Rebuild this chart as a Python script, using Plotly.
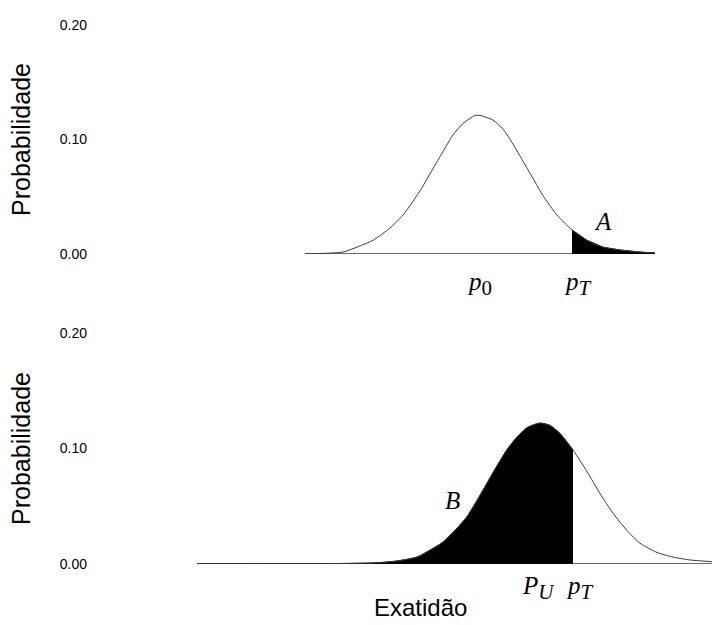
import plotly.graph_objects as go

# ---- data (Exatidão in arbitrary units, Probabilidade values) ----
exatidao_top = [305, 343, 357, 373, 390, 403, 413, 422, 430, 442, 453, 463, 475, 480,
                493, 503, 513, 523, 533, 543, 557, 572, 587, 603, 620, 640, 655]
prob_top = [0.0, 0.0017, 0.006, 0.012, 0.0227, 0.034, 0.046, 0.058, 0.070, 0.088,
            0.104, 0.114, 0.121, 0.121, 0.117, 0.109, 0.096, 0.081, 0.066, 0.051,
            0.034, 0.021, 0.012, 0.006, 0.0035, 0.0017, 0.0009]

exatidao_bottom = [197, 373, 397, 417, 430, 443, 457, 467, 477, 487, 497, 507, 517, 527,
                   540, 550, 560, 573, 587, 600, 613, 627, 640, 657, 673, 690, 712]
prob_bottom = [0.0, 0.0009, 0.0026, 0.006, 0.012, 0.019, 0.031, 0.041, 0.055, 0.070,
               0.085, 0.099, 0.110, 0.118, 0.122, 0.120, 0.113, 0.0987, 0.080, 0.061,
               0.044, 0.029, 0.018, 0.010, 0.006, 0.0035, 0.002]

p_0 = 477
p_T_top = 572
p_U = 540
p_T_bottom = 573

y_tickvals = [0.0, 0.1, 0.2]
y_ticktext = ["0.00", "0.10", "0.20"]

CURVE = "#3a3a3a"
SANS = "Liberation Sans, Arial, sans-serif"
SERIF = "Liberation Serif, Times New Roman, serif"

fig = go.Figure()

# ---- top panel ----
fig.add_trace(go.Scatter(x=[exatidao_top[0], exatidao_top[-1]], y=[0, 0], mode="lines",
                         line=dict(color=CURVE, width=1.5), xaxis="x", yaxis="y",
                         hoverinfo="skip"))
tail_x = [x for x in exatidao_top if x >= p_T_top]
tail_y = [y for x, y in zip(exatidao_top, prob_top) if x >= p_T_top]
fig.add_trace(go.Scatter(x=tail_x, y=tail_y, mode="lines", fill="tozeroy",
                         fillcolor="black", line=dict(color="black", width=1),
                         xaxis="x", yaxis="y"))
fig.add_trace(go.Scatter(x=exatidao_top, y=prob_top, mode="lines",
                         line=dict(color=CURVE, width=1, shape="spline", smoothing=0.6),
                         xaxis="x", yaxis="y"))

# ---- bottom panel ----
fig.add_trace(go.Scatter(x=[exatidao_bottom[0], exatidao_bottom[-1]], y=[0, 0], mode="lines",
                         line=dict(color=CURVE, width=1.5), xaxis="x2", yaxis="y2",
                         hoverinfo="skip"))
head_x = [x for x in exatidao_bottom if x <= p_T_bottom]
head_y = [y for x, y in zip(exatidao_bottom, prob_bottom) if x <= p_T_bottom]
fig.add_trace(go.Scatter(x=head_x, y=head_y, mode="lines", fill="tozeroy",
                         fillcolor="black",
                         line=dict(color="black", width=1, shape="spline", smoothing=0.6),
                         xaxis="x2", yaxis="y2"))
fig.add_trace(go.Scatter(x=exatidao_bottom, y=prob_bottom, mode="lines",
                         line=dict(color=CURVE, width=1, shape="spline", smoothing=0.6),
                         xaxis="x2", yaxis="y2"))

x_dom = [110 / 712, 1.0]
x_rng = [110, 712]

def yax(domain, anchor):
    return dict(domain=domain, range=[0, 0.2], anchor=anchor, automargin=False,
                tickvals=y_tickvals, ticktext=y_ticktext,
                tickfont=dict(family=SANS, size=14, color="black"),
                ticks="", ticklabelstandoff=22,
                showgrid=False, zeroline=False, showline=False,
                title=dict(text="Probabilidade", font=dict(family=SANS, size=25, color="black"),
                           standoff=22))

fig.update_layout(
    width=712, height=625,
    margin=dict(l=0, r=0, t=0, b=0, autoexpand=False),
    paper_bgcolor="white", plot_bgcolor="white",
    showlegend=False,
    xaxis=dict(domain=x_dom, range=x_rng, visible=False, anchor="y", automargin=False),
    yaxis=yax([(625 - 254) / 625, (625 - 25) / 625], "x"),
    xaxis2=dict(domain=x_dom, range=x_rng, visible=False, anchor="y2", automargin=False),
    yaxis2=yax([(625 - 564) / 625, (625 - 333) / 625], "x2"),
)

SUB = "<sub><span style='font-size:21px'>{}</span></sub>"
mfont = dict(family=SERIF, size=25, color="black")
ann = [
    dict(x=p_0, y=0, xref="x", yref="y", text="<i>p</i>" + SUB.format("0"), yanchor="top",
         xanchor="center", yshift=-12, xshift=2),
    dict(x=p_T_top, y=0, xref="x", yref="y", text="<i>p</i>" + SUB.format("<i>T</i>"),
         yanchor="top", xanchor="center", yshift=-12, xshift=6),
    dict(x=603, y=0.028, xref="x", yref="y", text="<i>A</i>", xanchor="center",
         yanchor="middle"),
    dict(x=452, y=0.055, xref="x2", yref="y2", text="<i>B</i>", xanchor="center",
         yanchor="middle"),
    dict(x=p_U, y=0, xref="x2", yref="y2", text="<i>P</i>" + SUB.format("<i>U</i>"),
         yanchor="top", xanchor="center", yshift=-6, xshift=-2),
    dict(x=p_T_bottom, y=0, xref="x2", yref="y2", text="<i>p</i>" + SUB.format("<i>T</i>"),
         yanchor="top", xanchor="center", yshift=-6, xshift=7),
]
for a in ann:
    a.update(showarrow=False, font=mfont)
ann.append(dict(x=420 / 712, y=1 - 607 / 625, xref="paper", yref="paper", text="Exatidão",
                showarrow=False, xanchor="center", yanchor="middle",
                font=dict(family=SANS, size=24, color="black")))
fig.update_layout(annotations=ann)

fig.write_html("out.html", config={"displayModeBar": False},
               post_script="document.body.style.margin='0';")
